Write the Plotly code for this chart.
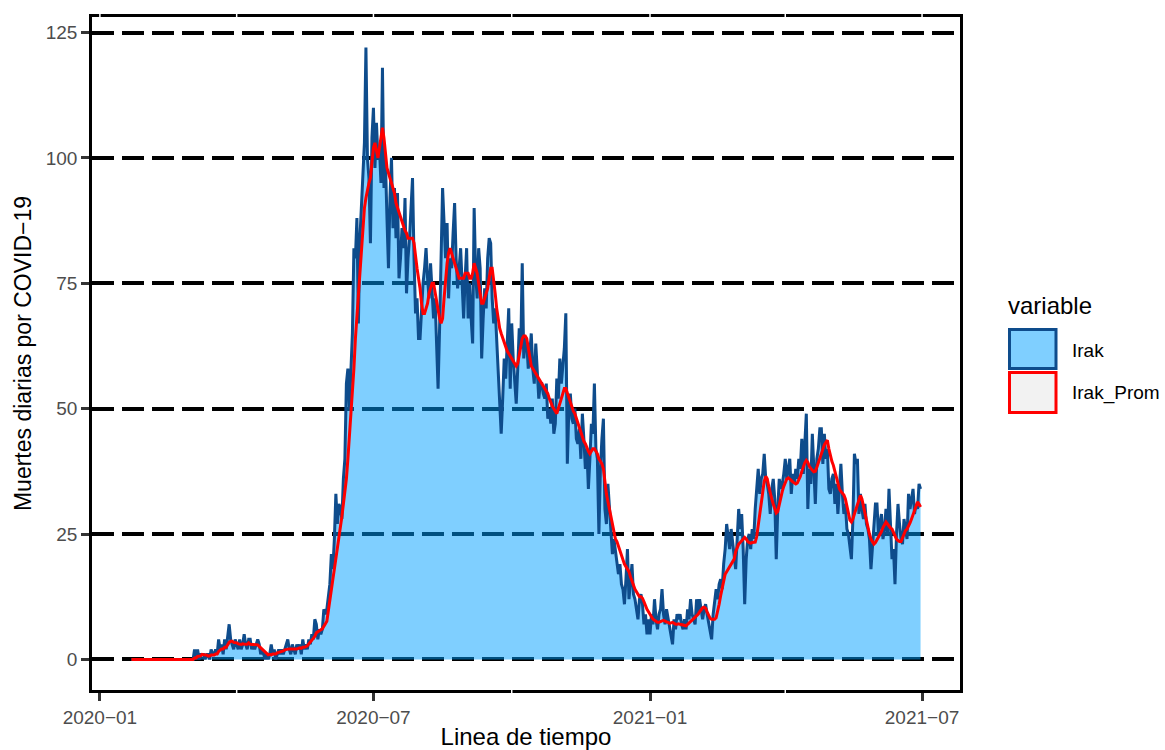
import pandas as pd
import plotly.graph_objects as go

# ---------------- data ----------------
start_date = "2020-01-22"

irak = (
    [0] * 10                                                     # 2020-01 (22-31)
    + [0] * 29                                                   # 2020-02
    + [0, 0, 0, 2, 0, 2, 0, 1, 1, 1, 0, 1, 1, 0, 2, 1, 1, 2, 1, 4,
       2, 3, 1, 4, 2, 5, 7, 4, 3, 2, 4]                          # 2020-03
    + [3, 2, 4, 2, 3, 5, 3, 2, 4, 4, 2, 3, 2, 3, 4, 3, 1, 2, 1, 0,
       1, 0, 1, 3, 1, 2, 0, 1, 2, 1]                             # 2020-04
    + [2, 1, 2, 3, 4, 2, 1, 3, 2, 1, 3, 2, 3, 1, 4, 2, 3, 2, 4, 3,
       5, 4, 8, 7, 4, 6, 5, 6, 10, 9, 10]                        # 2020-05
    + [12, 15, 21, 18, 24, 33, 27, 31, 30, 28, 36, 40, 55, 58, 50, 60, 65, 82, 80, 88,
       67, 84, 90, 98, 103, 122, 100, 96, 83, 104]               # 2020-06
    + [110, 98, 107, 100, 102, 95, 118, 94, 99, 88, 78, 92, 100, 86, 94, 84, 93, 76, 80, 86,
       82, 92, 73, 80, 84, 90, 96, 80, 69, 72, 64]               # 2020-07
    + [64, 70, 75, 78, 82, 76, 72, 79, 74, 68, 72, 63, 54, 66, 80, 94, 87, 80, 87, 72,
       80, 78, 85, 91, 80, 74, 78, 82, 75, 68, 76]               # 2020-08
    + [82, 68, 75, 68, 63, 90, 77, 72, 82, 78, 60, 68, 74, 70, 80, 84, 83, 72, 67, 70,
       63, 58, 50, 45, 52, 60, 56, 62, 70, 54]                   # 2020-09
    + [67, 60, 55, 51, 58, 66, 62, 79, 60, 64, 63, 58, 61, 65, 58, 55, 63, 57, 52, 55,
       55, 53, 52, 55, 48, 50, 47, 52, 45, 47, 56]               # 2020-10
    + [52, 60, 55, 58, 62, 69, 39, 50, 53, 48, 47, 50, 44, 43, 46, 40, 49, 44, 38, 42,
       34, 40, 47, 45, 55, 42, 40, 25, 38, 44]                   # 2020-11
    + [48, 30, 27, 35, 31, 26, 21, 24, 22, 20, 17, 19, 15, 14, 11, 16, 22, 12, 16, 19,
       13, 12, 10, 8, 12, 13, 11, 7, 9, 5, 8]                    # 2020-12
    + [5, 9, 7, 12, 8, 6, 9, 10, 14, 9, 7, 10, 8, 6, 5, 3, 8, 6, 9, 8,
       9, 7, 6, 8, 6, 10, 8, 12, 9, 8, 7]                        # 2021-01
    + [12, 9, 12, 10, 8, 10, 11, 9, 7, 5, 4, 9, 11, 14, 12, 15, 16, 14, 19, 22,
       27, 24, 22, 26, 23, 20, 18, 24]                           # 2021-02
    + [30, 26, 29, 22, 11, 20, 24, 25, 22, 26, 24, 30, 35, 38, 33, 36, 37, 41, 36, 35,
       33, 29, 34, 36, 32, 20, 30, 36, 34, 35, 37]               # 2021-03
    + [40, 36, 38, 40, 33, 37, 35, 38, 36, 40, 38, 44, 37, 42, 49, 30, 38, 35, 45, 38,
       31, 40, 42, 46, 46, 39, 45, 40, 42, 34]                   # 2021-04
    + [33, 36, 37, 31, 35, 29, 34, 39, 33, 29, 31, 26, 25, 22, 20, 28, 41, 39, 40, 29,
       33, 30, 28, 31, 27, 26, 24, 18, 22, 28, 31]               # 2021-05
    + [31, 25, 27, 29, 24, 26, 30, 25, 34, 28, 20, 22, 15, 25, 31, 27, 24, 23, 28, 26,
       24, 33, 30, 32, 34, 29, 31, 30, 35, 34]                   # 2021-06
)

irak_prom = (
    [0] * 10
    + [0] * 29
    + [0, 0, 0, 0.3, 0.3, 0.6, 0.6, 0.7, 1, 0.9, 0.9, 0.9, 0.7, 0.7, 0.9, 0.9, 0.9, 1.1, 1.1, 1.6,
       1.9, 2.1, 2.1, 2.4, 2.4, 3.0, 3.4, 3.6, 3.6, 3.4, 3.4]
    + [3.3, 3.1, 3.0, 3.0, 3.1, 3.0, 3.0, 3.0, 3.3, 3.0, 3.0, 3.0, 2.9, 3.0, 2.9, 2.6, 2.3, 2.0, 1.7, 1.3,
       1.0, 0.9, 1.0, 0.9, 1.1, 1.1, 1.1, 1.3, 1.4, 1.4]
    + [1.6, 1.7, 1.9, 2.0, 2.1, 2.1, 2.1, 2.1, 2.1, 2.0, 2.1, 2.2, 2.3, 2.2, 2.4, 2.4, 2.6, 2.7, 3.1, 3.4,
       3.8, 4.2, 4.6, 5.3, 5.5, 5.8, 5.9, 6.1, 6.6, 7.0, 7.6]
    + [9.7, 11.5, 14, 16, 18, 20, 22, 24, 26, 28.5, 31, 33.5, 36, 40, 44, 48, 52, 58, 64, 68,
       72, 76, 81, 86, 90, 92, 94, 95, 96, 99]
    + [102, 103, 101, 100, 102, 104, 106, 104, 101, 98, 97, 96, 95, 94, 93, 91, 90, 89, 88, 87,
       86, 85.5, 85, 84, 84, 84, 84, 83, 80, 78, 76]
    + [74, 71, 69, 69, 70, 71, 73, 74, 75, 75, 73, 71, 69, 68, 67, 68, 72, 76, 79, 81,
       82, 81, 80, 79, 78, 77, 76, 76, 76, 76, 77]
    + [77, 77, 76, 76, 77, 79, 78, 77, 75, 73, 71, 71, 72, 73, 74, 76, 78, 78, 76, 73,
       70, 68, 66, 65, 64, 63, 62, 61.5, 61, 60.5]
    + [60, 59.5, 59, 58.5, 59, 60.5, 62, 64, 64.5, 64.5, 64, 62, 60, 58.5, 58, 57.5, 57, 56.5, 56, 55.5,
       55, 54.5, 54, 53.5, 53, 52, 51, 50.5, 50, 49.5, 49]
    + [50, 51, 52, 53, 54, 54, 53, 52, 51, 50, 49.5, 49, 48, 47, 46, 45, 44, 43.5, 43, 42,
       41.5, 41, 41.5, 42, 42, 41.5, 41, 40, 39.5, 39]
    + [38, 35, 33, 31.5, 30, 29, 27, 25.5, 24, 23.5, 22.5, 22, 21, 20, 19, 18.5, 18, 17.5, 16.5, 15.5,
       15, 14, 13.5, 13, 12.5, 12.5, 12.2, 11.5, 10.5, 10, 9.5]
    + [9, 8.5, 8, 7.8, 7.6, 7.4, 7.4, 7.6, 7.7, 7.8, 7.6, 7.5, 7.4, 7.2, 7.3, 7.4, 7.2, 7.0, 7.0, 7.1,
       7.0, 6.9, 6.8, 6.7, 6.7, 7.0, 7.3, 7.6, 7.8, 8.0, 8.4]
    + [8.7, 9, 9.5, 10, 10.3, 10.4, 10.2, 9.5, 8.8, 8.2, 8.0, 8.0, 8.0, 8.3, 9.5, 11, 12.7, 14, 15.5, 17,
       17.5, 18, 18.5, 19, 19.3, 20, 21.5, 22.5]
    + [23, 23.3, 23.6, 24, 24.3, 24, 23.5, 23.3, 23.2, 23.3, 23.3, 23.4, 24.5, 26.5, 29, 31.5, 33.5, 35.5, 36.5, 36,
       34.5, 33, 32, 31, 30, 29.2, 29.5, 31, 32.5, 33.5, 34.5]
    + [35.5, 36, 36.2, 36, 35.7, 35.4, 35.2, 35, 35.2, 35.8, 36.5, 37.5, 38.5, 39.2, 39.7, 39.3, 38.5, 38, 37.7, 37.4,
       37.5, 38.3, 39.2, 40, 41, 42, 42.8, 43.3, 43.7, 42]
    + [40.5, 39.5, 38.7, 37.5, 36, 34.8, 34, 33.5, 33.2, 32.8, 32, 30.5, 29, 27.8, 27.4, 28, 29, 30, 31, 32,
       32.7, 32, 30.5, 29, 28, 26.5, 25, 24, 23.5, 23, 23.3]
    + [23.8, 24.5, 25, 25.5, 26.3, 27, 27.4, 27, 26.5, 26.2, 26, 25.3, 24.6, 24, 23.7, 23.5, 23.5, 24.2, 25, 25.7,
       26, 26.5, 27.2, 28, 28.8, 29.6, 30.5, 31.4, 31, 30.4]
)

series_names = ["Irak", "Irak_Prom"]
x_tick_dates = ["2020-01-01", "2020-07-01", "2021-01-01", "2021-07-01"]
x_tick_labels = ["2020\u221201", "2020\u221207", "2021\u221201", "2021\u221207"]
x_minor_dates = ["2020-04-01", "2020-10-01", "2021-04-01"]
y_ticks = [0, 25, 50, 75, 100, 125]

x_title = "Linea de tiempo"
y_title = "Muertes diarias por COVID\u221219"
legend_title = "variable"

# ---------------- styles ----------------
FONT = "Liberation Sans, Arial, sans-serif"
BLUE_LINE = "#0E4C8C"
BLUE_FILL = "rgba(0,160,255,0.5)"
RED = "#FF0000"
W, H = 1165, 750
ML, MR, MT, MB = 92, 205, 17, 60
PW, PH = W - ML - MR, H - MT - MB

dates = pd.date_range(start_date, periods=len(irak), freq="D")

# ggplot-like 5% expansion
span = dates[-1] - dates[0]
x_range = [dates[0] - span * 0.05, dates[-1] + span * 0.05]
ymax = max(irak)
y_range = [-0.05 * ymax, ymax * 1.05]

fig = go.Figure()
fig.add_trace(go.Scatter(
    x=dates, y=irak, name=series_names[0], mode="lines",
    line=dict(color=BLUE_LINE, width=3),
    fill="tozeroy", fillcolor=BLUE_FILL, showlegend=False,
))
fig.add_trace(go.Scatter(
    x=dates, y=irak_prom, name=series_names[1], mode="lines",
    line=dict(color=RED, width=3), showlegend=False,
))


def px2paper(px, py):
    return (px - ML) / PW, 1 - (py - MT) / PH


shapes = []
# manual legend keys
key_specs = [
    (328, 370, BLUE_FILL, BLUE_LINE),
    (371, 414, "#F2F2F2", RED),
]
for (ky0, ky1, fc, lc) in key_specs:
    x0, y0 = px2paper(1009.5, ky1 - 1.5)
    x1, y1 = px2paper(1056, ky0 + 1.5)
    shapes.append(dict(type="rect", xref="paper", yref="paper", x0=x0, x1=x1, y0=y0, y1=y1,
                       fillcolor=fc, line=dict(color=lc, width=3), layer="above"))

# small white breaks in the panel border (grid lines drawn over it)
for d in x_tick_dates + x_minor_dates:
    shapes.append(dict(type="line", xref="x", yref="paper", x0=d, x1=d, y0=0.996, y1=1.006,
                       line=dict(color="white", width=1.5), layer="above"))
for d in x_minor_dates:
    shapes.append(dict(type="line", xref="x", yref="paper", x0=d, x1=d, y0=-0.006, y1=0.004,
                       line=dict(color="white", width=1.5), layer="above"))

annotations = []
tx, ty = px2paper(1006, 305)
annotations.append(dict(text=legend_title, xref="paper", yref="paper", x=tx, y=ty,
                        xanchor="left", yanchor="middle", showarrow=False,
                        font=dict(family=FONT, size=24, color="black")))
for name, cy in zip(series_names, [350, 393]):
    lx, ly = px2paper(1070, cy)
    annotations.append(dict(text=name, xref="paper", yref="paper", x=lx, y=ly,
                            xanchor="left", yanchor="middle", showarrow=False,
                            font=dict(family=FONT, size=19, color="black")))

fig.update_layout(
    width=W, height=H,
    margin=dict(l=ML, r=MR, t=MT, b=MB, autoexpand=False),
    paper_bgcolor="white", plot_bgcolor="white",
    font=dict(family=FONT, color="black"),
    shapes=shapes, annotations=annotations,
    showlegend=False,
)
fig.update_xaxes(
    type="date", range=x_range,
    tickvals=x_tick_dates, ticktext=x_tick_labels,
    ticks="outside", ticklen=8, tickwidth=2.5, tickcolor="#333333",
    tickfont=dict(family=FONT, size=19, color="#4D4D4D"),
    showline=True, linecolor="black", linewidth=2.5, mirror=True,
    showgrid=False, zeroline=False,
    title=dict(text=x_title, font=dict(family=FONT, size=24, color="black"), standoff=2),
)
fig.update_yaxes(
    range=y_range, tickvals=y_ticks,
    ticks="outside", ticklen=8, tickwidth=2.5, tickcolor="#333333",
    tickfont=dict(family=FONT, size=19, color="#4D4D4D"),
    showline=True, linecolor="black", linewidth=2.5, mirror=True,
    showgrid=True, gridcolor="black", gridwidth=3.5, griddash="22px,8px",
    zeroline=False,
    title=dict(text=y_title, font=dict(family=FONT, size=23, color="black"), standoff=8),
)

fig.write_html("out.html")
